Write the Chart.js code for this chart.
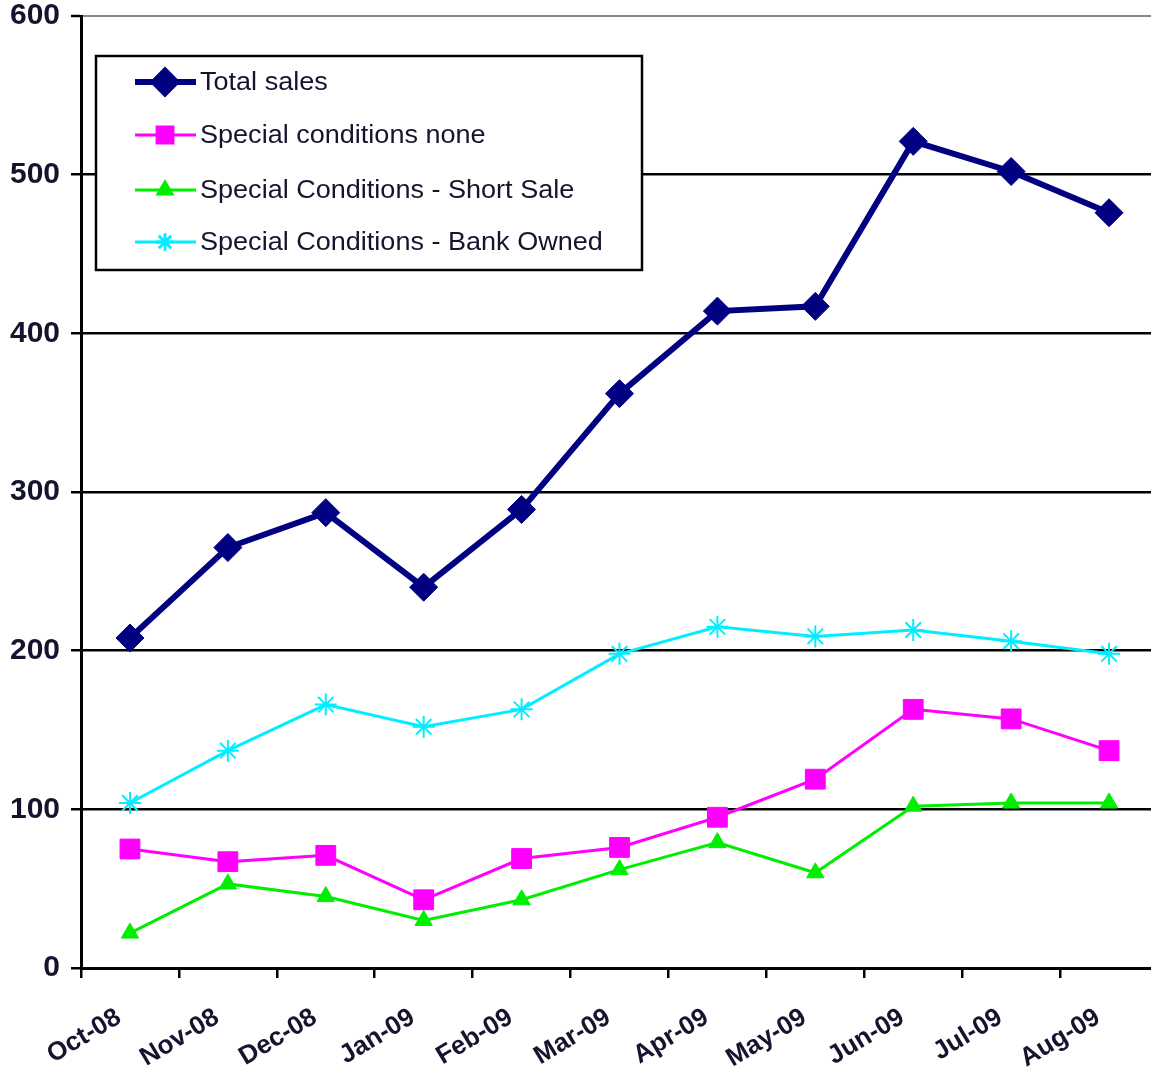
<!DOCTYPE html>
<html><head><meta charset="utf-8">
<script src="https://cdn.jsdelivr.net/npm/chart.js@4/dist/chart.umd.min.js"></script>
<style>
html,body{margin:0;padding:0;background:#fff;overflow:hidden;}
#wrap{position:relative;width:1151px;height:1074px;overflow:hidden;}
</style></head><body>
<div id="wrap"><canvas id="c" width="1158" height="1074"></canvas></div>
<script>
const categories = ['Oct-08','Nov-08','Dec-08','Jan-09','Feb-09','Mar-09','Apr-09','May-09','Jun-09','Jul-09','Aug-09'];
const totalSales = [208,265,287,240,289,362,414,417,521,502,476];
const specialNone = [75,67,71,43,69,76,95,119,163,157,137];
const shortSale = [22,53,45,30,43,62,79,60,102,104,104];
const bankOwned = [104,137,166,152,163,198,215,209,213,206,198];
const seriesNames = ['Total sales','Special conditions none','Special Conditions - Short Sale','Special Conditions - Bank Owned'];
const yMin = 0, yMax = 600, yStep = 100;

const FONT = '"Liberation Sans", Arial, sans-serif';
const TEXT = '#14142e';

const legendPlugin = {
  id: 'boxLegend',
  afterDraw(chart) {
    const ctx = chart.ctx;
    const x0 = 96, y0 = 56, w = 546, h = 214;
    ctx.save();
    ctx.fillStyle = '#fff';
    ctx.fillRect(x0, y0, w, h);
    ctx.strokeStyle = '#000';
    ctx.lineWidth = 2.5;
    ctx.strokeRect(x0, y0, w, h);
    const rows = [82, 135, 190, 242];
    chart.data.datasets.forEach((ds, i) => {
      const y = rows[i];
      ctx.strokeStyle = ds.borderColor;
      ctx.lineWidth = ds.borderWidth;
      ctx.beginPath();
      ctx.moveTo(135, y); ctx.lineTo(196, y); ctx.stroke();
      ctx.fillStyle = ds.pointBackgroundColor;
      ctx.strokeStyle = ds.pointBorderColor;
      Chart.helpers.drawPoint(ctx, {pointStyle: ds.pointStyle, radius: ds.pointRadius * 0.8, rotation: 0, borderWidth: ds.pointBorderWidth}, 165, y);
      ctx.save();
      ctx.translate(200, y + 1);
      ctx.scale(1.04, 1);
      ctx.fillStyle = TEXT;
      ctx.font = '26px ' + FONT;
      ctx.textBaseline = 'middle';
      ctx.textAlign = 'left';
      ctx.fillText(ds.label, 0, 0);
      ctx.restore();
    });
    ctx.restore();
  }
};

new Chart(document.getElementById('c'), {
  type: 'line',
  data: {
    labels: categories,
    datasets: [
      {label: seriesNames[0], data: totalSales, borderColor: '#000080', borderWidth: 6, pointStyle: 'rectRot', pointRadius: 14, pointBackgroundColor: '#000080', pointBorderColor: '#000080', pointBorderWidth: 1, tension: 0},
      {label: seriesNames[1], data: specialNone, borderColor: '#ff00ff', borderWidth: 3, pointStyle: 'rect', pointRadius: 14, pointBackgroundColor: '#ff00ff', pointBorderColor: '#ff00ff', pointBorderWidth: 1, tension: 0},
      {label: seriesNames[2], data: shortSale, borderColor: '#00ee00', borderWidth: 3, pointStyle: 'triangle', pointRadius: 10, pointBackgroundColor: '#00ee00', pointBorderColor: '#00ee00', pointBorderWidth: 1, tension: 0},
      {label: seriesNames[3], data: bankOwned, borderColor: '#00eeff', borderWidth: 3, pointStyle: 'star', pointRadius: 11, pointBackgroundColor: '#00eeff', pointBorderColor: '#00eeff', pointBorderWidth: 2, tension: 0}
    ]
  },
  options: {
    responsive: false,
    animation: false,
    devicePixelRatio: 1,
    layout: {autoPadding: false, padding: {left: 0, top: 16, right: 0, bottom: 0}},
    plugins: {legend: {display: false}, tooltip: {enabled: false}, title: {display: false}},
    scales: {
      x: {
        type: 'category',
        offset: true,
        grid: {offset: true, drawOnChartArea: false, drawTicks: true, tickLength: 10, color: '#000', lineWidth: 2.5},
        border: {display: true, color: '#000', width: 3},
        ticks: {minRotation: 31, maxRotation: 31, autoSkip: false, padding: 24, labelOffset: -11, color: TEXT, font: {family: FONT, size: 26, weight: 'bold'}},
        afterFit: s => { s.height = 106; s.paddingLeft = 0; s.paddingRight = 0; }
      },
      y: {
        min: yMin, max: yMax,
        ticks: {stepSize: yStep, padding: 11, color: TEXT, font: {family: FONT, size: 30, weight: 'bold'}},
        grid: {
          tickLength: 10,
          tickColor: '#000',
          tickWidth: 2.5,
          color: c => (c.tick && c.tick.value === yMax) ? '#8a8a8a' : '#000',
          lineWidth: c => (c.tick && c.tick.value === yMax) ? 2 : 2.5
        },
        border: {display: true, color: '#000', width: 3},
        afterFit: s => { s.width = 81; s.paddingTop = 0; s.paddingBottom = 0; }
      }
    }
  },
  plugins: [legendPlugin]
});
</script>
</body></html>
